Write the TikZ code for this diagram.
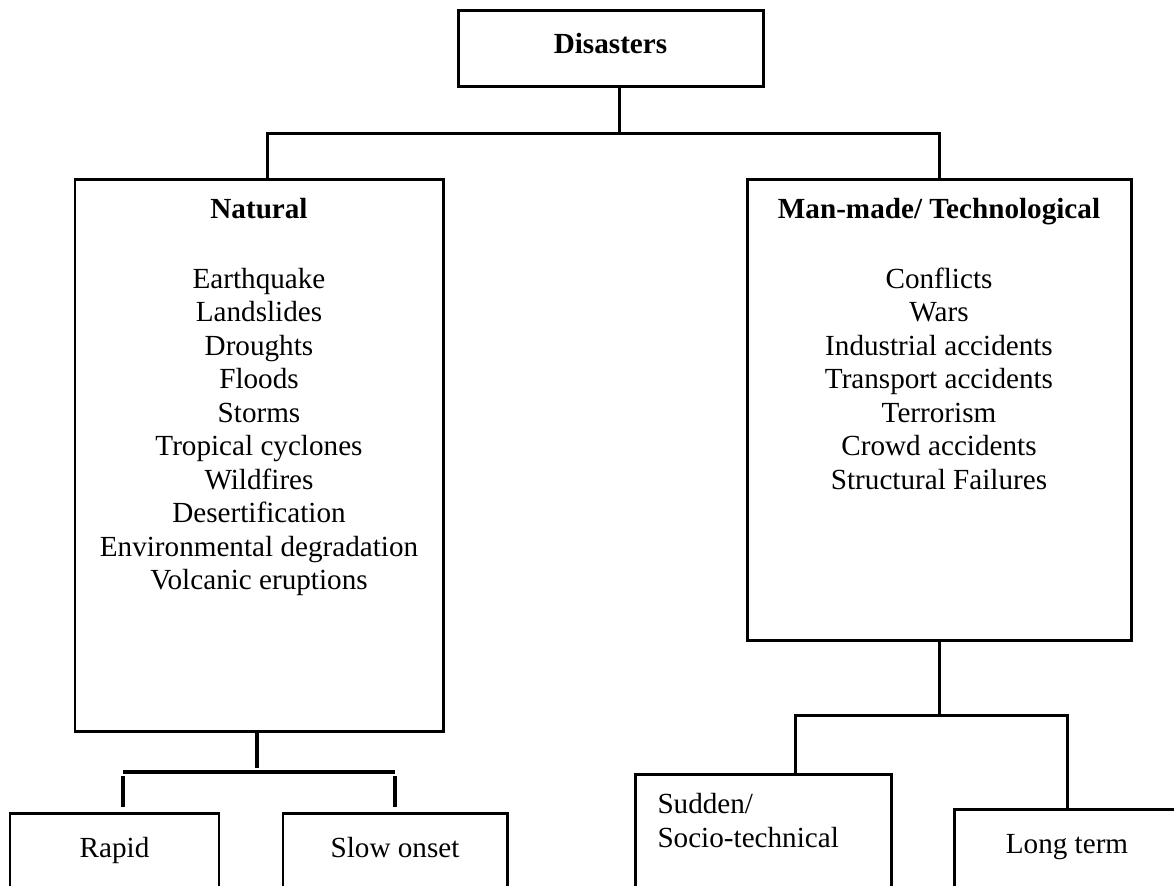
\documentclass[tikz,border=0pt]{standalone}
\usepackage{fontspec}
\setmainfont{Liberation Serif}
\begin{document}
\begin{tikzpicture}[x=0.4115pt,y=-0.4115pt,
  box/.style={draw,line width=1.23pt,rectangle,inner sep=0pt},
  conn/.style={line width=1.23pt},
  connb/.style={line width=1.6pt},
  txt/.style={font=\fontsize{12}{13.8}\selectfont,inner sep=0pt,anchor=base},
  ttl/.style={txt,font=\fontsize{12}{13.8}\selectfont\bfseries}]
\useasboundingbox (0,0) rectangle (1174,885);
\clip (0,0) rectangle (1174,885);
\fill[white] (0,0) rectangle (1174,885);

% boxes
\node[box,minimum width=125.51pt,minimum height=31.27pt] (dis) at (610.5,48) {};
\node[box,minimum width=151.43pt,minimum height=227.15pt] (nat) at (259,455) {};
\node[box,minimum width=158.02pt,minimum height=189.70pt] (man) at (939,409.5) {};
\node[box,minimum width=86.00pt,minimum height=41.15pt] (rapid) at (114.5,863) {};
\node[box,minimum width=92.18pt,minimum height=41.15pt] (slow) at (395,863) {};
\node[box,minimum width=105.34pt,minimum height=57.20pt] (sudden) at (763,843.5) {};
\node[box,minimum width=93.00pt,minimum height=42.80pt] (long) at (1067,861) {};

% connectors: top level
\coordinate (t1) at (619,133);
\coordinate (t1l) at (267,133);
\coordinate (t1r) at (939,133);
\draw[conn] (t1 |- dis.south) -- (t1);
\draw[conn] (t1l |- nat.north) -- (t1l) -- (t1r) -- (man.north);

% connectors: natural
\coordinate (t2) at (257,768);
\coordinate (t2l) at (123,772);
\coordinate (t2r) at (395,772);
\coordinate (r1) at (123,776);
\coordinate (r2) at (395,776);
\draw[connb] (t2 |- nat.south) -- (t2);
\draw[connb] (t2l) -- (t2r);
\draw[connb,shorten >=2pt] (r1) -- (r1 |- rapid.north);
\draw[connb,shorten >=2pt] (r2) -- (slow.north);

% connectors: man-made
\coordinate (t3) at (939,715);
\coordinate (t3l) at (795,715);
\coordinate (t3r) at (1067,715);
\draw[conn] (man.south) -- (t3);
\draw[conn] (t3l |- sudden.north) -- (t3l) -- (t3r) -- (long.north);

% texts
\node[ttl] (dist) at (610.5,53) {Disasters};
\node[ttl] (natt) at (259,218) {Natural};
\node[ttl] (mant) at (939,218) {Man-made/ Technological};
\foreach \t [count=\i from 0] in {Earthquake,Landslides,Droughts,Floods,Storms,Tropical cyclones,Wildfires,Desertification,Environmental degradation,Volcanic eruptions}
  \node[txt] (na\i) at (259,{288+33.5*\i}) {\t};
\foreach \t [count=\i from 0] in {Conflicts,Wars,Industrial accidents,Transport accidents,Terrorism,Crowd accidents,Structural Failures}
  \node[txt] (ma\i) at (939,{288+33.5*\i}) {\t};
\node[txt] (rapidt) at (114.5,857) {Rapid};
\node[txt] (slowt) at (395,857) {Slow onset};
\node[txt,anchor=base west] (sud1) at (657,813) {Sudden/};
\node[txt,anchor=base west] (sud2) at (657,847) {Socio-technical};
\node[txt] (longt) at (1067,853) {Long term};
\end{tikzpicture}
\end{document}
